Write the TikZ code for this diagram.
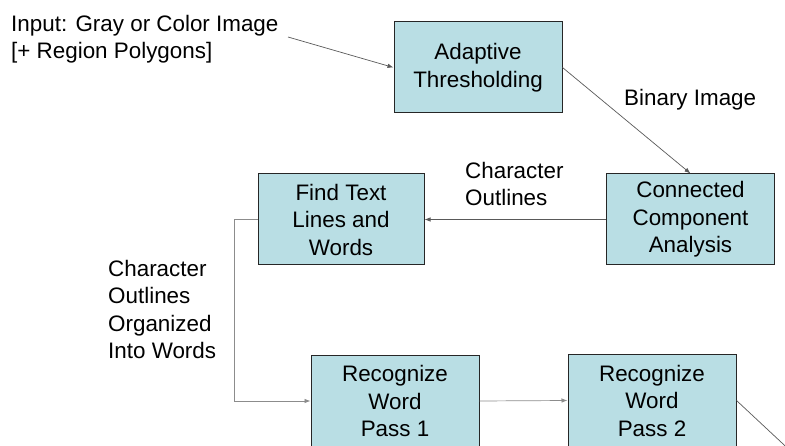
\documentclass[tikz,border=0pt]{standalone}
\usepackage{fontspec}
\setmainfont{Liberation Sans}
\usetikzlibrary{arrows.meta}
\definecolor{boxblue}{RGB}{185,222,228}
\begin{document}
\begin{tikzpicture}[x=1pt,y=-1pt,
		stagebox/.style={rectangle, fill=boxblue, draw=black!85, line width=1pt, minimum width=168pt, minimum height=91pt, align=center, inner sep=2pt},
		note/.style={anchor=west, align=left, inner sep=0pt},
		flow/.style={draw=black!65, line width=0.7pt, -{Latex[length=6pt,width=4.5pt]}}]
			\useasboundingbox (0,0) rectangle (785,446);
			\fontsize{22.4}{27.5}\selectfont

			\node[stagebox](adapt) at (478,67.5){Adaptive\\Thresholding};
			\node[stagebox](cca) at (690.5,219.5){Connected\\Component\\Analysis};
			\node[stagebox, minimum width=166pt](find) at (341,219.5){Find Text\\Lines and\\Words};
			\node[stagebox](pass1) at (395,401){Recognize\\Word\\Pass 1};
			\node[stagebox](pass2) at (652,400.5){Recognize\\Word\\Pass 2};

			\node[note](input) at (11,39){Input: Gray or Color Image\\{[+ Region Polygons]}};
			\node[note](binLabel) at (624,100){Binary Image};
			\node[note](outLabel) at (465,184){Character\\Outlines};
			\node[note](wordLabel) at (108,309.5){Character\\Outlines\\Organized\\Into Words};

			\coordinate (inTail) at (288,37);
			\coordinate (outEnd) at (812,471);

			\draw[flow] (inTail) -- (adapt.west);
			\draw[flow] (adapt.east) -- (cca.north);
			\draw[flow] (cca.west) -- (find.east);
			\draw[flow, draw=black!45] (find.west) -- ++(-23,0) |- (pass1.west);
			\draw[flow, draw=black!45] (pass1.east) -- (pass2.west);
			\draw[flow] (pass2.east) -- (outEnd);
		\end{tikzpicture}
\end{document}
